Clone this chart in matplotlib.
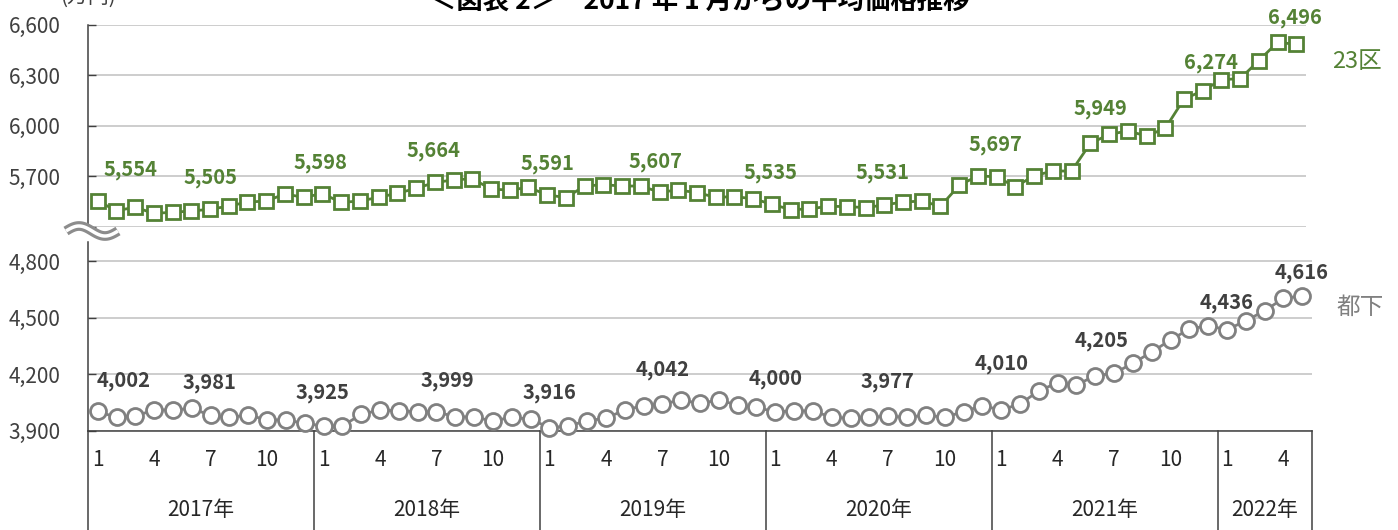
import matplotlib
matplotlib.use('Agg')
import matplotlib.pyplot as plt
import numpy as np
from matplotlib.transforms import blended_transform_factory
from matplotlib.lines import Line2D

plt.rcParams['font.family'] = ['Noto Sans CJK JP', 'DejaVu Sans']

# ---- data (万円), monthly Jan 2017 .. May 2022 ----
years = ['2017年', '2018年', '2019年', '2020年', '2021年', '2022年']
months_per_year = [12, 12, 12, 12, 12, 5]
month_ticks = [1, 4, 7, 10]

ku23 = [5554, 5497, 5517, 5481, 5487, 5495, 5505, 5524, 5548, 5554, 5596, 5576,
        5598, 5546, 5554, 5576, 5600, 5629, 5664, 5679, 5687, 5625, 5619, 5635,
        5591, 5574, 5643, 5651, 5643, 5643, 5607, 5619, 5604, 5576, 5580, 5568,
        5535, 5503, 5507, 5523, 5521, 5515, 5531, 5548, 5554, 5523, 5647, 5704,
        5697, 5639, 5704, 5732, 5732, 5896, 5949, 5970, 5940, 5985, 6159, 6208,
        6274, 6280, 6387, 6496, 6483]

toka = [4002, 3971, 3978, 4010, 4010, 4019, 3981, 3971, 3983, 3957, 3957, 3939,
        3925, 3925, 3987, 4010, 4005, 4001, 3999, 3975, 3971, 3953, 3971, 3961,
        3916, 3925, 3953, 3966, 4010, 4033, 4042, 4063, 4045, 4063, 4036, 4024,
        4000, 4005, 4005, 3971, 3966, 3971, 3977, 3971, 3983, 3971, 4001, 4033,
        4010, 4042, 4111, 4155, 4143, 4192, 4205, 4258, 4318, 4382, 4440, 4458,
        4436, 4484, 4537, 4603, 4616]

# which points carry a value label
ku23_labeled = [0, 6, 12, 18, 24, 30, 36, 42, 48, 54, 60, 63]
toka_labeled = [0, 6, 12, 18, 24, 30, 36, 42, 48, 54, 60, 64]

ku23_ticks = [5400, 5700, 6000, 6300, 6600]
toka_ticks = [3900, 4200, 4500, 4800]

# label placement (pixel offsets from the point)
ku23_shift = [(33, 32), (0, 32), (-2, 31), (-1, 32), (0, 31), (-4, 31),
              (-1, 32), (-2, 32), (-1, 32), (-9, 26), (-10, 17), (17, 25)]
toka_shift = [(26, 31), (-1, 33), (-1, 33), (11, 32), (0, 35), (0, 34),
              (0, 33), (-1, 35), (0, 46), (-12, 33), (0, 27), (-1, 23)]

GREEN = '#548235'
GRAY = '#808080'
DARK = '#404040'
GRID = '#c0c0c0'

W, H = 1398, 530
fig = plt.figure(figsize=(W / 100, H / 100), dpi=100)


def fx(px):
    return px / W


def fy(py):
    return 1 - py / H


ax_top = fig.add_axes([fx(88.3), fy(227), fx(1305.7 - 88.3), (227 - 24.7) / H])
ax_bot = fig.add_axes([fx(88.3), fy(430.7), fx(1311.7 - 88.3), (430.7 - 242.4) / H])

n = len(ku23)
x = np.arange(n)

ax_top.plot(x, ku23, color=GREEN, lw=2, marker='s', ms=10, mfc='white',
            mec=GREEN, mew=2, clip_on=False, zorder=3)
ax_bot.plot(x, toka, color=GRAY, lw=2, marker='o', ms=11.5, mfc='white',
            mec=GRAY, mew=2, clip_on=False, zorder=3)

for i, (dx, dy) in zip(ku23_labeled, ku23_shift):
    ax_top.annotate(f'{ku23[i]:,}', (x[i], ku23[i]), xytext=(dx, dy),
                    textcoords='offset pixels', ha='center', va='center',
                    color=GREEN, fontsize=14.5, fontweight='bold', annotation_clip=False)
for i, (dx, dy) in zip(toka_labeled, toka_shift):
    ax_bot.annotate(f'{toka[i]:,}', (x[i], toka[i]), xytext=(dx, dy),
                    textcoords='offset pixels', ha='center', va='center',
                    color=DARK, fontsize=14.5, fontweight='bold', annotation_clip=False)

for ax, ticks, lo, hi in [(ax_top, ku23_ticks, 5400, 6600), (ax_bot, toka_ticks, 3900, 4900)]:
    ax.set_xlim(-0.5, n - 0.5)
    ax.set_ylim(lo, hi)
    ax.set_yticks(ticks)
    ax.set_yticklabels(['' if t == 5400 else f'{t:,}' for t in ticks])
    ax.set_xticks([])
    ax.grid(axis='y', color=GRID, lw=1.1)
    ax.set_axisbelow(True)
    ax.tick_params(axis='y', direction='in', length=6, width=1, color=DARK,
                   labelsize=15, labelcolor=DARK, pad=20)
    for s in ['top', 'right', 'bottom']:
        ax.spines[s].set_visible(False)
    ax.spines['left'].set_color(DARK)
    ax.spines['left'].set_linewidth(1.1)
    ax.patch.set_alpha(0)

ax_bot.spines['bottom'].set_visible(True)
ax_bot.spines['bottom'].set_color(DARK)
ax_bot.spines['bottom'].set_linewidth(1.1)

# category axis below the lower panel
tr = blended_transform_factory(ax_bot.transData, fig.transFigure)
edges = np.concatenate([[0], np.cumsum(months_per_year)]) - 0.5
for e in edges:
    ax_bot.plot([e, e], [0, fy(430.7)], color=DARK, lw=1.1, transform=tr, clip_on=False)
start = 0
for yr, cnt in zip(years, months_per_year):
    for m in range(1, cnt + 1):
        if m in month_ticks:
            ax_bot.text(start + m - 1, fy(460), str(m), transform=tr, ha='center',
                        va='center', fontsize=15, color='#262626')
    ax_bot.text(start + (cnt - 1) / 2, fy(510), yr, transform=tr, ha='center',
                va='center', fontsize=15, color='#262626')
    start += cnt

# series names
fig.text(fx(1357), fy(62), '23区', color=GREEN, fontsize=17, ha='center', va='center')
fig.text(fx(1360), fy(307), '都下', color=GRAY, fontsize=17, ha='center', va='center')

# title and unit (partly cut by the top edge, as in the source image)
fig.text(fx(700), fy(9), '＜図表 2＞　2017 年 1 月からの平均価格推移', ha='center',
         va='baseline', fontsize=19, fontweight='bold', color='black')
fig.text(fx(88), fy(3), '(万円)', ha='center', va='baseline', fontsize=15, color=DARK)

# axis break mark
t = np.linspace(0, 1, 60)
bx = fx(66 + 52 * t)
by = fy(231 - 5 * np.sin(2 * np.pi * t))
fig.add_artist(Line2D(bx, by, color='#8c8c8c', lw=7, solid_capstyle='butt', zorder=10))
fig.add_artist(Line2D(bx, by, color='white', lw=2.5, solid_capstyle='butt', zorder=11))

fig.savefig('out.png', dpi=100)
